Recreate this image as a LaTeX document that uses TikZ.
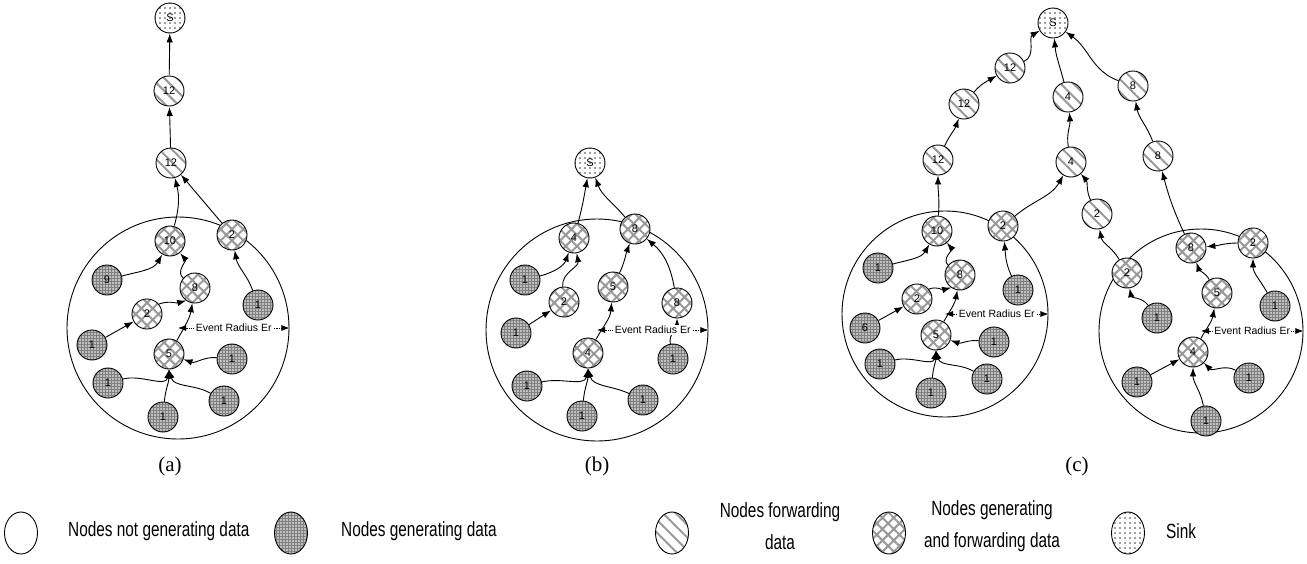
\documentclass[tikz,border=0pt]{standalone}
\usepackage{fontspec}
\usepackage{graphicx}
\setmainfont{Liberation Sans}
\newfontfamily\capfont{Liberation Serif}
\usetikzlibrary{arrows.meta,patterns,patterns.meta,shapes.geometric}
\newcommand{\sqz}[1]{\scalebox{0.75}[1]{#1}}
\begin{document}
\begin{tikzpicture}[x=1pt,y=1pt,
  genfill/.style={preaction={fill=gray!50},pattern=grid,pattern color=black!50},
  fwdfill/.style={preaction={fill=white},pattern={Lines[angle=-45,distance=9pt,line width=2pt]},pattern color=gray!80},
  gffill/.style={preaction={fill=white},pattern={Hatch[angle=45,distance=8pt,line width=2pt]},pattern color=gray!80},
  sinkfill/.style={preaction={fill=white},pattern={Dots[distance=5pt,radius=0.8pt]},pattern color=black!75},
  nd/.style={circle,draw,line width=0.9pt,minimum size=30pt,inner sep=0pt,font=\fontsize{11}{12}\selectfont},
  gen/.style={nd,genfill},
  fwd/.style={nd,fwdfill},
  gf/.style={nd,gffill},
  sink/.style={nd,sinkfill},
  region/.style={circle,draw,line width=0.9pt,inner sep=0pt},
  ar/.style={line width=0.9pt,-{Latex[length=9pt,width=6.5pt]}},
  er/.style={line width=0.8pt,densely dotted,{Latex[length=8pt,width=6pt]}-{Latex[length=8pt,width=6pt]}},
  erl/.style={fill=white,inner sep=1pt,font=\fontsize{10.5}{12}\selectfont},
  capt/.style={font=\capfont\fontsize{21}{22}\selectfont},
  leg/.style={ellipse,draw,line width=0.9pt,minimum width=33pt,minimum height=42pt,inner sep=0pt},
  legt/.style={font=\fontsize{20.5}{32}\selectfont,align=center,inner sep=0pt}
]
\useasboundingbox (0,0) rectangle (1307,-563);

% ---------------- panel (a)
\node[region,minimum size=222pt] (aR) at (178,-328) {};
\node[sink] (aS) at (170,-18) {S};
\node[fwd] (a12a) at (169,-91) {12};
\node[fwd] (a12b) at (171,-163) {12};
\node[gf] (a10) at (170,-241) {10};
\node[gf] (a2t) at (232,-235) {2};
\node[gen] (a9) at (107,-280) {9};
\node[gf] (a8) at (195,-288) {8};
\node[gen] (a1r) at (258,-305) {1};
\node[gf] (a2m) at (147,-314) {2};
\node[gen] (a1l) at (92,-345) {1};
\node[gf] (a5) at (169,-354) {5};
\node[gen] (a1e) at (232,-359) {1};
\node[gen] (a1f) at (108,-383) {1};
\node[gen] (a1g) at (224,-401) {1};
\node[gen] (a1h) at (163,-417) {1};

\draw[ar] (a12a) -- (aS);
\draw[ar] (a12b) -- (a12a);
\draw[ar] (a10) to[bend right=15] (a12b);
\draw[ar] (a2t) -- (a12b);
\draw[ar] (a9) to[out=15,in=-120] (a10);
\draw[ar] (a8) to[out=140,in=-50] (a10);
\draw[ar] (a1r) to[out=110,in=-80] (a2t);
\draw[ar] (a1l) -- (a2m);
\draw[ar] (a2m.40) to[out=20,in=195] (a8.-125);
\draw[ar] (a5) to[out=60,in=-100] (a8);
\draw[ar] (a1e) to[out=175,in=-20] (a5);
\draw[ar] (a1f) to[out=15,in=-100] (a5.south);
\draw[ar] (a1h) to[out=85,in=-90] (a5.south);
\draw[ar] (a1g) to[out=150,in=-75] (a5.south);
\draw[er] (aR.center) -- (aR.east) node[midway,erl] (aE) {Event Radius Er};
\node[capt] (capa) at (170,-466) {(a)};

% ---------------- panel (b)
\node[region,minimum size=222pt] (bR) at (597,-330) {};
\node[sink] (bS) at (590,-163) {S};
\node[gf] (b4t) at (574,-238) {4};
\node[gf] (b8t) at (635,-229) {8};
\node[gen] (b1a) at (525,-280) {1};
\node[gf] (b2) at (564,-302) {2};
\node[gf] (b5) at (613,-287) {5};
\node[gf] (b8r) at (677,-303) {8};
\node[gen] (b1b) at (516,-333) {1};
\node[gf] (b4m) at (588,-353) {4};
\node[gen] (b1c) at (673,-359) {1};
\node[gen] (b1d) at (527,-386) {1};
\node[gen] (b1e) at (643,-400) {1};
\node[gen] (b1f) at (582,-416) {1};

\draw[ar] (b4t) to[out=75,in=-100] (bS);
\draw[ar] (b8t) to[out=130,in=-70] (bS);
\draw[ar] (b1a) to[out=15,in=-110] (b4t);
\draw[ar] (b2) to[out=95,in=-80] (b4t);
\draw[ar] (b1b) -- (b2);
\draw[ar] (b5) to[out=65,in=-110] (b8t);
\draw[ar] (b8r) to[out=100,in=-40] (b8t);
\draw[ar] (b4m) to[out=60,in=-95] (b5);
\draw[ar] (b1c) to[out=100,in=-90] (b8r);
\draw[ar] (b1d) to[out=15,in=-100] (b4m.south);
\draw[ar] (b1f) to[out=85,in=-90] (b4m.south);
\draw[ar] (b1e) to[out=155,in=-75] (b4m.south);
\draw[er] (bR.center) -- (bR.east) node[midway,erl] (bE) {Event Radius Er};
\node[capt] (capb) at (597,-466) {(b)};

% ---------------- panel (c)
\node[region,minimum size=206pt] (cL) at (945,-314) {};
\node[region,minimum size=204pt] (cR) at (1201,-331) {};
\node[sink] (cS) at (1053,-23) {S};
\node[fwd] (c12c) at (1010,-68) {12};
\node[fwd] (c12b) at (964,-104) {12};
\node[fwd] (c12a) at (938,-160) {12};
\node[fwd] (c4a) at (1068,-97) {4};
\node[fwd] (c4b) at (1071,-162) {4};
\node[fwd] (c8a) at (1133,-86) {8};
\node[fwd] (c8b) at (1158,-156) {8};
\node[fwd] (c2f) at (1097,-214) {2};
% left region
\node[gf] (c10) at (937,-231) {10};
\node[gf] (c2x) at (1003,-226) {2};
\node[gen] (cl1a) at (878,-268) {1};
\node[gf] (cl8) at (960,-275) {8};
\node[gen] (cl1b) at (1018,-290) {1};
\node[gf] (cl2) at (917,-299) {2};
\node[gen] (cl6) at (865,-328) {6};
\node[gf] (cl5) at (936,-335) {5};
\node[gen] (cl1c) at (994,-342) {1};
\node[gen] (cl1d) at (880,-364) {1};
\node[gen] (cl1e) at (987,-379) {1};
\node[gen] (cl1f) at (931,-393) {1};
% right region
\node[gf] (cr8) at (1191,-248) {8};
\node[gf] (cr2) at (1253,-243) {2};
\node[gf] (cr2c) at (1127,-273) {2};
\node[gf] (cr5) at (1217,-293) {5};
\node[gen] (cr1a) at (1275,-306) {1};
\node[gen] (cr1b) at (1157,-318) {1};
\node[gf] (cr4) at (1193,-352) {4};
\node[gen] (cr1c) at (1137,-382) {1};
\node[gen] (cr1d) at (1249,-378) {1};
\node[gen] (cr1e) at (1206,-421) {1};

\draw[ar] (c12c) to[out=25,in=-150] (cS);
\draw[ar] (c12b) to[out=50,in=-150] (c12c);
\draw[ar] (c12a) to[out=65,in=-110] (c12b);
\draw[ar] (c10) to[out=85,in=-90] (c12a);
\draw[ar] (c4a) to[out=105,in=-85] (cS);
\draw[ar] (c8a) to[out=160,in=-35] (cS);
\draw[ar] (c4b) to[out=100,in=-85] (c4a);
\draw[ar] (c8b) to[out=110,in=-80] (c8a);
\draw[ar] (c2x) to[out=40,in=-120] (c4b);
\draw[ar] (c2f) to[out=115,in=-50] (c4b);
\draw[ar] (cr8) to[out=115,in=-75] (c8b);
\draw[ar] (cr2c) to[out=120,in=-80] (c2f);
\draw[ar] (cr1b) to[out=125,in=-80] (cr2c);
\draw[ar] (cr2) to[out=180,in=5] (cr8);
\draw[ar] (cr1a) to[out=120,in=-90] (cr2);
\draw[ar] (cr5) to[out=120,in=-70] (cr8);
\draw[ar] (cr4) to[out=60,in=-100] (cr5);
\draw[ar] (cr1c) -- (cr4);
\draw[ar] (cr1d) to[out=150,in=-45] (cr4);
\draw[ar] (cr1e) to[out=100,in=-90] (cr4.south);
\draw[ar] (cl1a) to[out=15,in=-120] (c10);
\draw[ar] (cl8) to[out=140,in=-50] (c10);
\draw[ar] (cl6) -- (cl2);
\draw[ar] (cl2.40) to[out=20,in=195] (cl8.-125);
\draw[ar] (cl5) to[out=60,in=-100] (cl8);
\draw[ar] (cl1c) to[out=175,in=-20] (cl5);
\draw[ar] (cl1d) to[out=15,in=-100] (cl5.south);
\draw[ar] (cl1f) to[out=85,in=-90] (cl5.south);
\draw[ar] (cl1e) to[out=150,in=-75] (cl5.south);
\draw[ar] (cl1b) to[out=115,in=-85] (c2x);
\draw[er] (cL.center) -- (cL.east) node[midway,erl] (cLE) {Event Radius Er};
\draw[er] (cR.center) -- (cR.east) node[midway,erl] (cRE) {Event Radius Er};
\node[capt] (capc) at (1077,-466) {(c)};

% ---------------- legend
\node[leg] (l1) at (21,-533) {};
\node[legt,anchor=west] (t1) at (68,-531) {\sqz{Nodes not generating data}};
\node[leg,genfill] (l2) at (291,-533) {};
\node[legt,anchor=west] (t2) at (341,-531) {\sqz{Nodes generating data}};
\node[leg,fwdfill] (l3) at (672,-533) {};
\node[legt] (t3) at (780,-526) {\sqz{Nodes forwarding}\\\sqz{data}};
\node[leg,gffill] (l4) at (889,-533) {};
\node[legt] (t4) at (992,-526) {\sqz{Nodes generating}\\\sqz{and forwarding data}};
\node[leg,sinkfill] (l5) at (1128,-533) {};
\node[legt,anchor=west] (t5) at (1166,-531) {\sqz{Sink}};
\end{tikzpicture}
\end{document}
